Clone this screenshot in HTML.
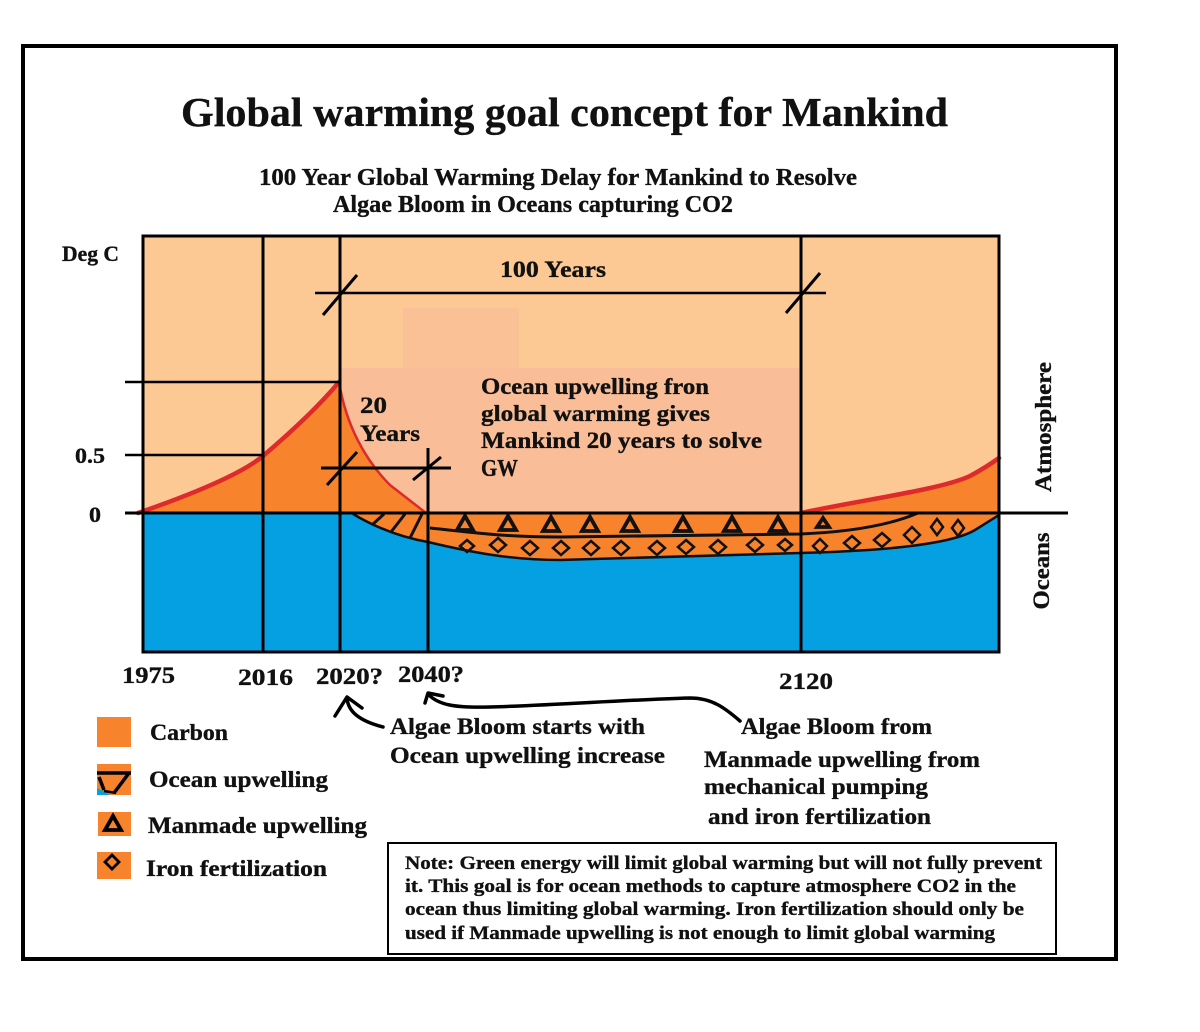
<!DOCTYPE html>
<html><head><meta charset="utf-8"><style>
html,body{margin:0;padding:0;background:#fff;}
svg{display:block;}
text{font-family:"Liberation Serif","DejaVu Serif",serif;font-weight:bold;fill:#111;stroke:#111;stroke-width:0.35px;}
</style></head><body>
<svg width="1200" height="1032" viewBox="0 0 1200 1032" xmlns="http://www.w3.org/2000/svg">
<rect x="0" y="0" width="1200" height="1032" fill="#fff"/>
<!-- outer frame -->
<rect x="23" y="46" width="1093" height="913" fill="none" stroke="#000" stroke-width="4"/>

<!-- title -->
<text x="181" y="126" font-size="41" textLength="767" lengthAdjust="spacingAndGlyphs">Global warming goal concept for Mankind</text>
<text x="259" y="185" font-size="24" textLength="598" lengthAdjust="spacingAndGlyphs">100 Year Global Warming Delay for Mankind to Resolve</text>
<text x="333" y="212" font-size="24" textLength="400" lengthAdjust="spacingAndGlyphs">Algae Bloom in Oceans capturing CO2</text>

<!-- chart backgrounds -->
<rect x="143" y="236" width="856" height="277" fill="#FCC994"/>
<rect x="341" y="368" width="460" height="145" fill="#F9BE98"/>
<rect x="403" y="308" width="116" height="60" fill="#FAC197"/>
<rect x="143" y="513" width="856" height="139" fill="#05A0E2"/>

<!-- carbon fill left -->
<path d="M138,513 C190,495 240,475 263,456 C290,433 320,405 339,382 C346,425 365,460 390,485 L426,513 Z" fill="#F7832D"/>
<!-- carbon fill right -->
<path d="M801,513 C860,500 940,490 970,476 Q985,468 999,458 L999,513 Z" fill="#F7832D"/>
<!-- ocean orange band -->
<path d="M353,513 L999,513 L999,515 L975,530 C950,545 880,551 800,553 L560,560 C510,560 470,552 428,542 C405,538 380,530 353,514 Z" fill="#F7832D"/>
<path d="M353,514 C380,530 405,538 428,542 C470,552 510,560 560,560 L800,553 C880,551 950,545 975,530 L999,515" fill="none" stroke="#111" stroke-width="2.5"/>
<!-- hatch -->
<g stroke="#111" stroke-width="3">
<line x1="372" y1="525" x2="384" y2="514"/>
<line x1="391" y1="532" x2="405" y2="514"/>
<line x1="410" y1="538" x2="422" y2="514"/>
</g>
<!-- inner line -->
<path d="M430,528 C470,532 500,537 560,537 L800,534 C850,532 890,525 918,513" fill="none" stroke="#111" stroke-width="3"/>

<!-- triangles -->
<g fill="none" stroke="#111" stroke-width="3.8" stroke-linejoin="miter">
<path d="M465,516 L473,530 L457,530 Z"/>
<path d="M508,516 L516,530 L500,530 Z"/>
<path d="M551,517 L559,531 L543,531 Z"/>
<path d="M590,517 L598,531 L582,531 Z"/>
<path d="M630,517 L638,531 L622,531 Z"/>
<path d="M683,517 L691,531 L675,531 Z"/>
<path d="M732,517 L740,531 L724,531 Z"/>
<path d="M778,517 L786,531 L770,531 Z"/>
<path d="M823,518 L829,527 L817,527 Z"/>
</g>
<!-- diamonds -->
<g fill="none" stroke="#111" stroke-width="2.5">
<path d="M467,540 L474,546 L467,552 L460,546 Z"/>
<path d="M498,538 L506,545 L498,552 L490,545 Z"/>
<path d="M530,541 L538,548 L530,555 L522,548 Z"/>
<path d="M561,541 L569,548 L561,555 L553,548 Z"/>
<path d="M591,541 L599,548 L591,555 L583,548 Z"/>
<path d="M621,541 L629,548 L621,555 L613,548 Z"/>
<path d="M657,541 L665,548 L657,555 L649,548 Z"/>
<path d="M686,540 L694,547 L686,554 L678,547 Z"/>
<path d="M718,540 L726,547 L718,554 L710,547 Z"/>
<path d="M755,538 L763,545 L755,552 L747,545 Z"/>
<path d="M785,539 L792,545 L785,551 L778,545 Z"/>
<path d="M820,539 L827,546 L820,553 L813,546 Z"/>
<path d="M852,536 L860,543 L852,550 L844,543 Z"/>
<path d="M882,533 L890,540 L882,547 L874,540 Z"/>
<path d="M912,527 L920,535 L912,543 L904,535 Z"/>
<path d="M937,519 L943,527 L937,535 L931,527 Z"/>
<path d="M958,520 L964,528 L958,536 L952,528 Z"/>
</g>

<!-- red curves -->
<path d="M138,513 C190,495 240,475 263,456 C290,433 320,405 339,382" fill="none" stroke="#DD2A2C" stroke-width="4.5" stroke-linecap="round"/>
<path d="M339,382 C346,425 365,460 390,485 L426,513" fill="none" stroke="#DD2A2C" stroke-width="2.5"/>
<path d="M801,513 C860,500 940,490 970,476 Q985,468 999,458" fill="none" stroke="#DD2A2C" stroke-width="4.5" stroke-linecap="round"/>

<!-- chart lines -->
<g stroke="#000" stroke-width="3" fill="none">
<rect x="143" y="236" width="856" height="416"/>
<line x1="263" y1="236" x2="263" y2="652"/>
<line x1="340" y1="236" x2="340" y2="652"/>
<line x1="428" y1="448" x2="428" y2="652"/>
<line x1="801" y1="236" x2="801" y2="652"/>
<line x1="125" y1="513" x2="1068" y2="513"/>
<line x1="125" y1="455" x2="263" y2="455" stroke-width="2.5"/>
<line x1="125" y1="382" x2="340" y2="382" stroke-width="2.5"/>
<line x1="315" y1="293" x2="826" y2="293" stroke-width="2.5"/>
<line x1="323" y1="315" x2="357" y2="275"/>
<line x1="786" y1="313" x2="820" y2="273"/>
<line x1="321" y1="468" x2="451" y2="468"/>
<line x1="327" y1="485" x2="357" y2="452"/>
<line x1="413" y1="480" x2="441" y2="457"/>
</g>

<!-- chart labels -->
<text x="62" y="261" font-size="22" textLength="57" lengthAdjust="spacingAndGlyphs">Deg C</text>
<text x="75" y="463" font-size="22" textLength="30" lengthAdjust="spacingAndGlyphs">0.5</text>
<text x="89" y="522" font-size="22" textLength="12" lengthAdjust="spacingAndGlyphs">0</text>
<text x="500" y="277" font-size="23" textLength="106" lengthAdjust="spacingAndGlyphs">100 Years</text>
<text x="360" y="413" font-size="23" textLength="27" lengthAdjust="spacingAndGlyphs">20</text>
<text x="360" y="441" font-size="23" textLength="60" lengthAdjust="spacingAndGlyphs">Years</text>
<text x="481" y="394" font-size="23" textLength="228" lengthAdjust="spacingAndGlyphs">Ocean upwelling fron</text>
<text x="481" y="421" font-size="23" textLength="229" lengthAdjust="spacingAndGlyphs">global warming gives</text>
<text x="481" y="448" font-size="23" textLength="281" lengthAdjust="spacingAndGlyphs">Mankind 20 years to solve</text>
<text x="481" y="476" font-size="24" textLength="37" lengthAdjust="spacingAndGlyphs">GW</text>
<text transform="translate(1051,427) rotate(-90)" text-anchor="middle" font-size="23" textLength="130" lengthAdjust="spacingAndGlyphs">Atmosphere</text>
<text transform="translate(1049,571) rotate(-90)" text-anchor="middle" font-size="23" textLength="77" lengthAdjust="spacingAndGlyphs">Oceans</text>

<text x="122" y="683" font-size="23" textLength="53" lengthAdjust="spacingAndGlyphs">1975</text>
<text x="238" y="685" font-size="23" textLength="55" lengthAdjust="spacingAndGlyphs">2016</text>
<text x="316" y="684" font-size="23" textLength="67" lengthAdjust="spacingAndGlyphs">2020?</text>
<text x="398" y="682" font-size="23" textLength="66" lengthAdjust="spacingAndGlyphs">2040?</text>
<text x="779" y="689" font-size="23" textLength="54" lengthAdjust="spacingAndGlyphs">2120</text>

<!-- arrows -->
<g fill="none" stroke="#000" stroke-width="3.5" stroke-linecap="round" stroke-linejoin="round">
<path d="M347,698 C348,712 360,721 383,727"/>
<path d="M335,716 L347,697 L362,708"/>
<path d="M428,694 C438,705 455,708 490,707 C560,705 620,700 690,698 C712,698 725,708 740,721"/>
<path d="M425,703 L428,693 L443,696"/>
</g>

<!-- annotations -->
<text x="390" y="734" font-size="23" textLength="255" lengthAdjust="spacingAndGlyphs">Algae Bloom starts with</text>
<text x="390" y="763" font-size="23" textLength="275" lengthAdjust="spacingAndGlyphs">Ocean upwelling increase</text>
<text x="741" y="734" font-size="23" textLength="191" lengthAdjust="spacingAndGlyphs">Algae Bloom from</text>
<text x="704" y="767" font-size="23" textLength="276" lengthAdjust="spacingAndGlyphs">Manmade upwelling from</text>
<text x="704" y="794" font-size="23" textLength="224" lengthAdjust="spacingAndGlyphs">mechanical pumping</text>
<text x="708" y="824" font-size="23" textLength="223" lengthAdjust="spacingAndGlyphs">and iron fertilization</text>

<!-- legend -->
<rect x="97" y="717" width="34" height="30" fill="#F7832D"/>
<rect x="97" y="764" width="34" height="31" fill="#F7832D"/>
<path d="M97,788 L110,795 L97,795 Z" fill="#05A0E2"/>
<g stroke="#000" stroke-width="3.5" fill="none">
<line x1="97" y1="773" x2="131" y2="773"/>
<line x1="129" y1="773" x2="114" y2="793"/>
<line x1="99" y1="777" x2="104" y2="790"/>
<line x1="104" y1="791" x2="116" y2="793" stroke-width="2.5"/>
</g>
<text x="150" y="740" font-size="23" textLength="78" lengthAdjust="spacingAndGlyphs">Carbon</text>
<text x="149" y="787" font-size="23" textLength="179" lengthAdjust="spacingAndGlyphs">Ocean upwelling</text>
<rect x="98" y="812" width="33" height="24" fill="#F7832D"/>
<path d="M113,816 L121,830 L105,830 Z" fill="none" stroke="#000" stroke-width="3.8"/>
<text x="148" y="833" font-size="23" textLength="219" lengthAdjust="spacingAndGlyphs">Manmade upwelling</text>
<rect x="97" y="852" width="34" height="27" fill="#F7832D"/>
<path d="M112,855 L119,862 L112,869 L105,862 Z" fill="none" stroke="#000" stroke-width="2.8"/>
<text x="146" y="876" font-size="23" textLength="181" lengthAdjust="spacingAndGlyphs">Iron fertilization</text>

<!-- note box -->
<rect x="388" y="843" width="668" height="111" fill="#fff" stroke="#000" stroke-width="2"/>
<text x="405" y="869" font-size="19" textLength="637" lengthAdjust="spacingAndGlyphs">Note: Green energy will limit global warming but will not fully prevent</text>
<text x="405" y="892" font-size="19" textLength="611" lengthAdjust="spacingAndGlyphs">it. This goal is for ocean methods to capture atmosphere CO2 in the</text>
<text x="405" y="915" font-size="19" textLength="619" lengthAdjust="spacingAndGlyphs">ocean thus limiting global warming. Iron fertilization should only be</text>
<text x="405" y="939" font-size="19" textLength="590" lengthAdjust="spacingAndGlyphs">used if Manmade upwelling is not enough to limit global warming</text>
</svg>
</body></html>
